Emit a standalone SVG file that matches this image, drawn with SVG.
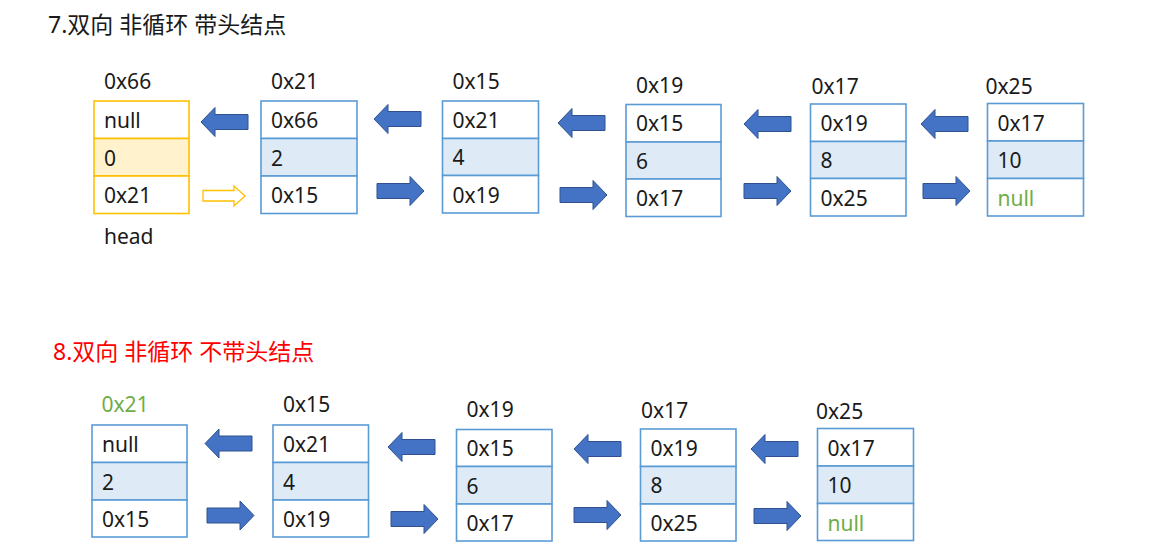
<svg xmlns="http://www.w3.org/2000/svg" width="1169" height="560" viewBox="0 0 1169 560">
<style>
text{font-family:"Noto Sans","Noto Sans CJK SC",sans-serif;font-size:21px;fill:#1a1a1a}
.title{font-size:23px}
.red{fill:#ff0000}
.green{fill:#70ad47}
.cell{fill:#ffffff;stroke:#5b9bd5;stroke-width:1.6}
.mid{fill:#deebf7;stroke:#5b9bd5;stroke-width:1.6}
.hcell{fill:#ffffff;stroke:#ffc000;stroke-width:1.6}
.hmid{fill:#fff2cc;stroke:#ffc000;stroke-width:1.6}
.arr{fill:#4472c4;stroke:#2f528f;stroke-width:1}
.oarr{fill:#ffffff;stroke:#ffc000;stroke-width:1.3}
</style>
<defs>
<path id="la" d="M0,0 L14,-14.5 L14,-7.5 L47,-7.5 L47,7.5 L14,7.5 L14,14.5 Z"/>
<path id="ra" d="M47,0 L33,-14.5 L33,-7.5 L0,-7.5 L0,7.5 L33,7.5 L33,14.5 Z"/>
</defs>

<text class="title" x="48" y="33">7.双向 非循环 带头结点</text>
<text class="title red" x="53" y="360">8.双向 非循环 不带头结点</text>

<!-- Section 7 -->
<g id="n7-head">
<rect class="hcell" x="94" y="101" width="95" height="37.5"/>
<rect class="hmid" x="94" y="138.5" width="95" height="37.5"/>
<rect class="hcell" x="94" y="176" width="95" height="37.5"/>
<text x="104" y="88.5">0x66</text>
<text x="104" y="128">null</text>
<text x="104" y="165.5">0</text>
<text x="104" y="203">0x21</text>
<text x="104" y="243.5">head</text>
</g>
<g id="n7-0x21">
<rect class="cell" x="261" y="101" width="96" height="37.5"/>
<rect class="mid" x="261" y="138.5" width="96" height="37.5"/>
<rect class="cell" x="261" y="176" width="96" height="37.5"/>
<text x="271" y="88.5">0x21</text>
<text x="271" y="128">0x66</text>
<text x="271" y="165.5">2</text>
<text x="271" y="203">0x15</text>
</g>
<g id="n7-0x15">
<rect class="cell" x="442.5" y="101" width="96" height="37.5"/>
<rect class="mid" x="442.5" y="138.5" width="96" height="37"/>
<rect class="cell" x="442.5" y="175.5" width="96" height="37.5"/>
<text x="452.5" y="89">0x15</text>
<text x="452.5" y="127.5">0x21</text>
<text x="452.5" y="165">4</text>
<text x="452.5" y="202.5">0x19</text>
</g>
<g id="n7-0x19">
<rect class="cell" x="626" y="104.5" width="95" height="37.5"/>
<rect class="mid" x="626" y="142" width="95" height="37"/>
<rect class="cell" x="626" y="179" width="95" height="37.5"/>
<text x="636" y="93">0x19</text>
<text x="636" y="131">0x15</text>
<text x="636" y="168.5">6</text>
<text x="636" y="206">0x17</text>
</g>
<g id="n7-0x17">
<rect class="cell" x="810.5" y="104" width="95.5" height="37.5"/>
<rect class="mid" x="810.5" y="141.5" width="95.5" height="37"/>
<rect class="cell" x="810.5" y="178.5" width="95.5" height="37.5"/>
<text x="811.5" y="93.5">0x17</text>
<text x="820.5" y="130.5">0x19</text>
<text x="820.5" y="168">8</text>
<text x="820.5" y="205.5">0x25</text>
</g>
<g id="n7-0x25">
<rect class="cell" x="987.5" y="103.5" width="96" height="37.5"/>
<rect class="mid" x="987.5" y="141" width="96" height="37.5"/>
<rect class="cell" x="987.5" y="178.5" width="96" height="37.5"/>
<text x="985.5" y="94">0x25</text>
<text x="997.5" y="130.5">0x17</text>
<text x="997.5" y="168">10</text>
<text class="green" x="997.5" y="205.5">null</text>
</g>

<!-- Section 8 -->
<g id="n8-0x21">
<rect class="cell" x="92" y="425" width="95" height="37.5"/>
<rect class="mid" x="92" y="462.5" width="95" height="37.5"/>
<rect class="cell" x="92" y="500" width="95" height="37"/>
<text class="green" x="101.5" y="411.5">0x21</text>
<text x="102" y="452">null</text>
<text x="102" y="489.5">2</text>
<text x="102" y="527">0x15</text>
</g>
<g id="n8-0x15">
<rect class="cell" x="273" y="425" width="95.5" height="37.5"/>
<rect class="mid" x="273" y="462.5" width="95.5" height="37.5"/>
<rect class="cell" x="273" y="500" width="95.5" height="37"/>
<text x="283" y="411.5">0x15</text>
<text x="283" y="452">0x21</text>
<text x="283" y="489.5">4</text>
<text x="283" y="527">0x19</text>
</g>
<g id="n8-0x19">
<rect class="cell" x="456.5" y="429.5" width="95.5" height="37"/>
<rect class="mid" x="456.5" y="466.5" width="95.5" height="37.5"/>
<rect class="cell" x="456.5" y="504" width="95.5" height="37"/>
<text x="466.5" y="416.5">0x19</text>
<text x="466.5" y="456">0x15</text>
<text x="466.5" y="493.5">6</text>
<text x="466.5" y="531">0x17</text>
</g>
<g id="n8-0x17">
<rect class="cell" x="640.5" y="429" width="95.5" height="37.5"/>
<rect class="mid" x="640.5" y="466.5" width="95.5" height="37.5"/>
<rect class="cell" x="640.5" y="504" width="95.5" height="37"/>
<text x="641" y="418">0x17</text>
<text x="650.5" y="455.5">0x19</text>
<text x="650.5" y="493">8</text>
<text x="650.5" y="530.5">0x25</text>
</g>
<g id="n8-0x25">
<rect class="cell" x="817.5" y="428.5" width="96" height="37.5"/>
<rect class="mid" x="817.5" y="466" width="96" height="37.5"/>
<rect class="cell" x="817.5" y="503.5" width="96" height="37"/>
<text x="816" y="418.5">0x25</text>
<text x="827.5" y="455.5">0x17</text>
<text x="827.5" y="493">10</text>
<text class="green" x="827.5" y="530.5">null</text>
</g>

<g id="connectors">
<use href="#la" class="arr" transform="translate(201,122)"/>
<path class="oarr" d="M203,190.5 L234,190.5 L234,186 L245,196 L234,206 L234,201 L203,201 Z"/>
<use href="#la" class="arr" transform="translate(374,119)"/>
<use href="#ra" class="arr" transform="translate(377,191)"/>
<use href="#la" class="arr" transform="translate(558,123)"/>
<use href="#ra" class="arr" transform="translate(560,195)"/>
<use href="#la" class="arr" transform="translate(744,124)"/>
<use href="#ra" class="arr" transform="translate(744,191)"/>
<use href="#la" class="arr" transform="translate(921,124)"/>
<use href="#ra" class="arr" transform="translate(923,191)"/>

<use href="#la" class="arr" transform="translate(205,443.5)"/>
<use href="#ra" class="arr" transform="translate(207,515.5)"/>
<use href="#la" class="arr" transform="translate(388,447)"/>
<use href="#ra" class="arr" transform="translate(391,519)"/>
<use href="#la" class="arr" transform="translate(574,449)"/>
<use href="#ra" class="arr" transform="translate(574,515)"/>
<use href="#la" class="arr" transform="translate(751,449)"/>
<use href="#ra" class="arr" transform="translate(754,516)"/>
</g>
</svg>
